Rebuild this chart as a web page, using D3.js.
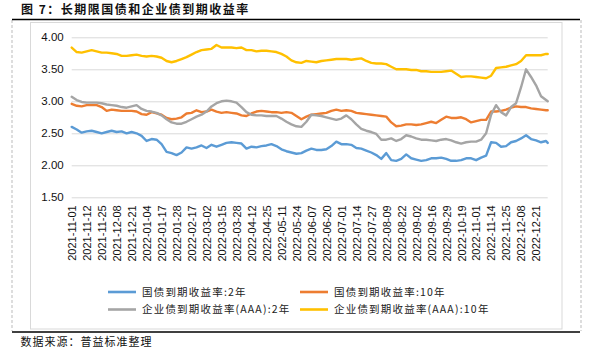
<!DOCTYPE html>
<html><head><meta charset="utf-8">
<script src="https://cdn.jsdelivr.net/npm/d3@7/dist/d3.min.js"></script>
<style>body{margin:0;background:#fff}svg{display:block}</style>
</head><body>
<svg id="c" width="591" height="352"></svg>
<script>
// trading-day index of each sample (0 = 2021-11-01, 286 = 2022-12-30)
const dayIndex = [0,3,6,9,12,15,18,21,24,27,30,33,36,39,42,45,48,51,54,57,60,63,66,69,72,75,78,81,84,87,90,93,96,99,102,105,108,111,114,117,120,123,126,129,132,135,138,141,144,147,150,153,156,159,162,165,168,171,174,177,180,183,186,189,192,195,198,201,204,207,210,213,216,219,222,225,228,231,234,237,240,243,246,249,252,255,258,261,264,267,270,273,276,279,282,285,286];
// x-axis tick labels, every 9 trading days
const tickLabels = ["2021-11-01","2021-11-12","2021-11-25","2021-12-08","2021-12-21","2022-01-04","2022-01-17","2022-01-28","2022-02-17","2022-03-02","2022-03-15","2022-03-28","2022-04-12","2022-04-25","2022-05-11","2022-05-24","2022-06-07","2022-06-20","2022-07-01","2022-07-14","2022-07-27","2022-08-09","2022-08-22","2022-09-02","2022-09-16","2022-09-29","2022-10-19","2022-11-01","2022-11-14","2022-11-25","2022-12-08","2022-12-21"];
const tickStep = 9;
const yTicks = [1.5,2.0,2.5,3.0,3.5,4.0];

const gov2y = [2.60,2.56,2.51,2.53,2.54,2.52,2.50,2.52,2.54,2.52,2.53,2.50,2.52,2.50,2.46,2.38,2.41,2.40,2.33,2.21,2.19,2.16,2.20,2.28,2.26,2.28,2.31,2.27,2.32,2.29,2.32,2.35,2.36,2.35,2.34,2.26,2.29,2.28,2.30,2.31,2.33,2.30,2.25,2.22,2.20,2.18,2.19,2.23,2.26,2.24,2.24,2.25,2.30,2.37,2.33,2.33,2.32,2.27,2.26,2.23,2.20,2.16,2.10,2.19,2.08,2.07,2.10,2.17,2.11,2.09,2.07,2.08,2.11,2.11,2.12,2.10,2.07,2.07,2.08,2.11,2.11,2.08,2.12,2.15,2.36,2.35,2.29,2.30,2.36,2.38,2.42,2.47,2.41,2.39,2.36,2.38,2.35];
const gov10y = [2.96,2.93,2.92,2.94,2.94,2.94,2.91,2.85,2.87,2.86,2.85,2.85,2.85,2.84,2.80,2.79,2.83,2.81,2.79,2.74,2.72,2.73,2.75,2.81,2.82,2.86,2.83,2.84,2.87,2.84,2.82,2.83,2.82,2.81,2.78,2.77,2.81,2.84,2.85,2.84,2.83,2.83,2.82,2.83,2.82,2.77,2.72,2.76,2.79,2.80,2.81,2.82,2.85,2.87,2.85,2.86,2.85,2.82,2.81,2.80,2.79,2.78,2.77,2.76,2.67,2.61,2.62,2.64,2.64,2.63,2.64,2.66,2.68,2.66,2.71,2.76,2.74,2.74,2.75,2.72,2.67,2.69,2.71,2.71,2.84,2.84,2.85,2.87,2.90,2.92,2.91,2.91,2.89,2.88,2.87,2.86,2.86];
const corp2y = [3.07,3.02,2.99,2.98,2.98,2.98,2.97,2.95,2.94,2.93,2.91,2.90,2.92,2.94,2.88,2.85,2.84,2.82,2.78,2.72,2.67,2.65,2.65,2.68,2.72,2.76,2.79,2.84,2.92,2.97,3.00,3.01,3.00,2.98,2.91,2.83,2.79,2.78,2.78,2.77,2.77,2.77,2.73,2.68,2.64,2.61,2.60,2.68,2.79,2.78,2.77,2.75,2.73,2.71,2.73,2.78,2.72,2.64,2.57,2.54,2.52,2.49,2.40,2.40,2.42,2.38,2.41,2.47,2.45,2.42,2.40,2.40,2.39,2.38,2.40,2.41,2.39,2.36,2.34,2.36,2.37,2.37,2.40,2.50,2.79,2.94,2.83,2.78,2.91,2.97,3.22,3.50,3.38,3.25,3.08,3.02,3.00];
const corp10y = [3.84,3.77,3.76,3.78,3.80,3.78,3.76,3.76,3.75,3.74,3.71,3.71,3.72,3.73,3.71,3.70,3.71,3.70,3.68,3.63,3.61,3.63,3.66,3.69,3.73,3.77,3.80,3.81,3.82,3.88,3.84,3.84,3.84,3.83,3.84,3.80,3.80,3.78,3.79,3.79,3.78,3.77,3.74,3.70,3.64,3.61,3.60,3.63,3.62,3.61,3.63,3.64,3.65,3.66,3.66,3.66,3.65,3.66,3.67,3.63,3.60,3.59,3.59,3.58,3.54,3.50,3.50,3.50,3.49,3.49,3.47,3.47,3.46,3.46,3.46,3.47,3.48,3.43,3.38,3.39,3.39,3.38,3.37,3.36,3.40,3.52,3.53,3.54,3.56,3.58,3.63,3.72,3.72,3.72,3.72,3.74,3.74];

const seriesNames = ["国债到期收益率:2年","国债到期收益率:10年","企业债到期收益率(AAA):2年","企业债到期收益率(AAA):10年"];
const seriesData = [gov2y, gov10y, corp2y, corp10y];
const colors = ["#5B9BD5","#ED7D31","#A5A5A5","#FFC000"];

const svg = d3.select("#c");
const cjk = "'Noto Sans CJK SC','Noto Sans',sans-serif";
const lat = "'Liberation Sans',Arial,sans-serif";

// frame
svg.append("line").attr("x1",12).attr("x2",12).attr("y1",20).attr("y2",331).attr("stroke","#bbb").attr("stroke-dasharray","3,2");
svg.append("line").attr("x1",581).attr("x2",581).attr("y1",20).attr("y2",331).attr("stroke","#bbb").attr("stroke-dasharray","3,2");
svg.append("line").attr("x1",12).attr("x2",580).attr("y1",19.5).attr("y2",19.5).attr("stroke","#000").attr("stroke-width",1.3);
svg.append("line").attr("x1",12).attr("x2",580).attr("y1",332).attr("y2",332).attr("stroke","#000").attr("stroke-width",1.3);
svg.append("rect").attr("x",30.5).attr("y",22.5).attr("width",531.5).attr("height",306.5).attr("fill","none").attr("stroke","#d9d9d9");

svg.append("text").attr("x",21).attr("y",14).attr("font-family",cjk).attr("font-size",12).attr("font-weight","bold").attr("letter-spacing",1.5).attr("fill","#111").text("图 7：长期限国债和企业债到期收益率");
svg.append("text").attr("x",20.5).attr("y",346).attr("font-family",cjk).attr("font-size",11).attr("letter-spacing",1).attr("fill","#111").text("数据来源：普益标准整理");

const x = d3.scaleLinear().domain([0,286]).range([71.7,547.7]);
const y = d3.scaleLinear().domain([1.5,4.0]).range([197.3,37.3]);

// gridlines + y labels
const yAxis = d3.axisLeft(y).tickValues(yTicks).tickSize(-(547.7-71.7)).tickFormat(d3.format(".2f")).tickPadding(8);
const gy = svg.append("g").attr("transform","translate(71.7,0)").call(yAxis);
gy.select(".domain").remove();
gy.selectAll(".tick line").attr("stroke","#d9d9d9");
gy.selectAll(".tick text").attr("font-family",lat).attr("font-size",11.5).attr("fill","#111");

// x labels
const xAxis = d3.axisBottom(x).tickValues(tickLabels.map((d,i)=>i*tickStep)).tickFormat((d,i)=>tickLabels[i]).tickSize(0);
const gx = svg.append("g").attr("transform","translate(0,197.3)").call(xAxis);
gx.select(".domain").remove();
gx.selectAll(".tick text").attr("font-family",lat).attr("font-size",11).attr("fill","#111")
  .attr("transform","rotate(-90)").attr("text-anchor","end").attr("dy","0.35em").attr("dx","-8").attr("x",0).attr("y",0);

// lines
const line = d3.line().x((d,i)=>x(dayIndex[i])).y(d=>y(d));
seriesData.forEach((s,k)=>{
  svg.append("path").datum(s).attr("d",line).attr("fill","none").attr("stroke",colors[k]).attr("stroke-width",2.4).attr("stroke-linejoin","round").attr("stroke-linecap","round");
});

// legend
const legPos = [[108,292],[300,292],[108,309.5],[300,309.5]];
seriesNames.forEach((n,k)=>{
  const [lx,ly] = legPos[k];
  svg.append("line").attr("x1",lx).attr("x2",lx+28).attr("y1",ly).attr("y2",ly).attr("stroke",colors[k]).attr("stroke-width",2.6);
  svg.append("text").attr("x",lx+34).attr("y",ly).attr("dy","0.36em").attr("font-family",cjk).attr("font-size",10.5).attr("letter-spacing",1.2).attr("fill","#222").text(n);
});
</script>
</body></html>
